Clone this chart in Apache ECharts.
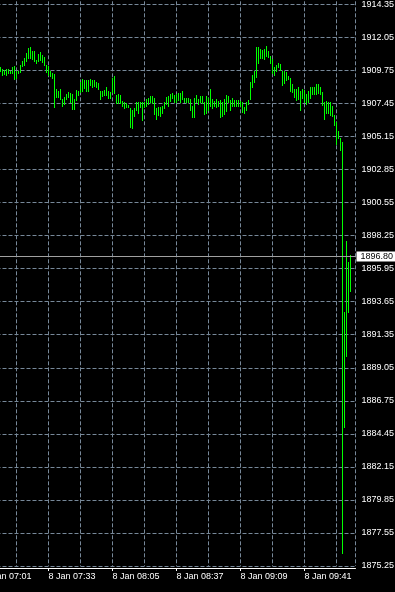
<!DOCTYPE html>
<html><head><meta charset="utf-8">
<script src="https://cdn.jsdelivr.net/npm/echarts@6/dist/echarts.min.js"></script>
<style>html,body{margin:0;padding:0;background:#000;overflow:hidden}#c{width:395px;height:592px;}</style>
</head><body><div id="c"></div>
<script>
// Time axis origin (minute 0 of the x axis) and first bar offset (minutes)
const axisStartTime = '07:01';
const dateLabel = '8 Jan';
const firstBarMinute = 8; // first visible bar = 07:09, one bar per minute

// Bar highs (one per minute)
const highs = [
1910.02,1909.83,1909.79,1909.88,1909.83,1909.74,1910.02,1910.07,1909.69,1909.74,
1910.16,1910.39,1910.58,1910.95,1911.32,1911.36,1911.08,1911.13,1910.49,1910.86,
1911.00,1910.81,1910.67,1910.16,1910.07,1909.69,1909.60,1909.51,1908.44,1908.30,
1908.49,1907.75,1907.89,1908.12,1908.26,1908.17,1908.08,1907.75,1908.40,1908.35,
1908.91,1909.14,1909.10,1909.05,1909.10,1909.14,1909.05,1909.10,1908.91,1908.86,
1908.35,1908.30,1908.40,1908.63,1908.35,1908.26,1909.24,1909.33,1908.03,1908.08,
1908.03,1907.61,1907.52,1907.47,1907.33,1907.15,1907.01,1907.15,1907.57,1907.57,
1907.52,1907.57,1907.57,1907.75,1907.85,1907.98,1907.98,1907.85,1907.15,1907.19,
1907.19,1907.29,1907.57,1907.89,1907.98,1908.12,1908.17,1908.03,1908.12,1908.21,
1908.21,1908.35,1907.85,1907.80,1907.80,1907.75,1907.24,1907.85,1908.03,1907.75,
1907.98,1907.94,1907.52,1907.94,1907.85,1908.44,1907.75,1907.61,1907.75,1907.61,
1907.66,1907.57,1907.75,1908.03,1907.98,1907.70,1907.85,1907.66,1907.66,1907.66,
1907.61,1907.52,1907.19,1907.52,1907.66,1908.91,1909.42,1909.69,1911.36,1911.41,
1911.27,1911.20,1911.27,1911.46,1911.13,1910.77,1910.53,1910.02,1910.16,1910.30,
1910.21,1909.69,1909.69,1909.65,1909.33,1909.19,1908.77,1908.44,1908.44,1908.63,
1908.35,1908.44,1908.40,1908.12,1908.35,1908.58,1908.63,1908.63,1908.82,1908.77,
1908.63,1908.26,1907.57,1907.61,1907.52,1907.57,1907.29,1906.64,1906.13,1905.52,
1905.06,1904.74,1892.95,1897.86,1896.42,1896.89
];

// Bar lows (one per minute)
const lows = [
1909.69,1909.42,1909.51,1909.42,1909.55,1909.55,1909.55,1909.14,1909.19,1909.55,
1909.65,1910.07,1910.11,1910.39,1910.63,1910.63,1910.53,1910.44,1910.30,1910.39,
1910.49,1910.35,1910.11,1909.65,1909.46,1909.33,1909.24,1907.19,1907.89,1907.89,
1907.75,1907.29,1907.43,1907.75,1907.89,1907.57,1907.05,1907.05,1907.71,1908.03,
1908.26,1908.35,1908.54,1908.31,1908.35,1908.72,1908.63,1908.68,1908.58,1908.44,
1907.75,1907.94,1908.03,1908.03,1907.80,1907.85,1908.22,1908.17,1907.47,1907.47,
1907.47,1907.24,1907.15,1907.19,1907.19,1905.80,1905.76,1906.55,1907.01,1906.78,
1907.19,1906.32,1907.19,1907.29,1907.43,1907.57,1907.47,1906.73,1906.40,1906.63,
1906.59,1906.78,1907.15,1907.38,1907.29,1907.61,1907.80,1907.57,1907.56,1907.66,
1907.57,1907.75,1907.52,1907.52,1907.52,1907.01,1906.49,1906.49,1907.52,1907.43,
1907.57,1907.47,1906.73,1906.77,1906.96,1907.29,1907.15,1907.24,1907.19,1907.29,
1906.54,1906.59,1906.73,1906.91,1907.52,1907.01,1907.29,1907.29,1907.24,1907.29,
1907.29,1906.87,1906.82,1906.96,1907.38,1907.75,1908.58,1908.91,1909.28,1910.25,
1910.63,1910.58,1910.53,1910.72,1910.67,1910.25,1909.60,1909.42,1909.69,1909.97,
1909.79,1908.72,1908.86,1909.05,1909.14,1908.31,1908.26,1907.89,1907.71,1907.75,
1906.96,1907.85,1907.52,1907.38,1907.52,1907.85,1908.08,1908.08,1908.12,1908.21,
1908.12,1907.33,1906.36,1906.77,1906.77,1906.68,1906.59,1905.94,1904.65,1905.06,
1904.18,1876.16,1884.95,1889.89,1892.95,1894.41
];

// Price axis ticks
const priceMin = 1875.25;
const priceStep = 2.3;
const priceMax = 1916.65;
// Current bid price
const bidPrice = 1896.80;

const FONT = '"Liberation Sans", Arial, sans-serif';
const FS = 9;

const [h0, m0] = axisStartTime.split(':').map(Number);
function timeLabel(m) {
  const t = h0 * 60 + m0 + Math.round(m);
  const hh = String(Math.floor(t / 60)).padStart(2, '0');
  const mm = String(t % 60).padStart(2, '0');
  return dateLabel + ' ' + hh + ':' + mm;
}

const barData = highs.map((h, i) => [firstBarMinute + i, h, lows[i]]);

const chart = echarts.init(document.getElementById('c'), null, {renderer: 'canvas'});
const gridColor = '#778899';
const dash = [4, 2];
chart.setOption({
  backgroundColor: '#000',
  animation: false,
  grid: {left: -15.5, right: 39.5, top: -28.7, bottom: 26, containLabel: false, outerBoundsMode: 'none'},
  xAxis: [{
    type: 'value', min: 0, max: 185.5, interval: 16,
    axisLine: {show: false}, axisTick: {show: false}, axisLabel: {show: false},
    splitLine: {show: true, lineStyle: {color: gridColor, width: 1, type: dash}}
  }, {
    type: 'value', min: 0, max: 185.5, interval: 32, position: 'bottom', offset: 2,
    axisLine: {show: true, lineStyle: {color: '#fff', width: 1}},
    axisTick: {show: true, length: 3, lineStyle: {color: '#fff'}},
    axisLabel: {show: true, color: '#fff', fontSize: FS, fontFamily: FONT, align: 'left',
      margin: 4, showMaxLabel: false, showMinLabel: true, hideOverlap: false, formatter: timeLabel},
    splitLine: {show: false}
  }],
  yAxis: {
    type: 'value', position: 'right', min: priceMin, max: priceMax, interval: priceStep,
    axisLine: {show: true, lineStyle: {color: '#fff', width: 1}},
    axisTick: {show: true, length: 3, lineStyle: {color: '#fff'}},
    axisLabel: {color: '#fff', fontSize: FS, fontFamily: FONT, margin: 6,
      showMaxLabel: false, formatter: v => v.toFixed(2)},
    splitLine: {show: true, lineStyle: {color: gridColor, width: 1, type: dash}}
  },
  series: [{
    type: 'custom',
    xAxisIndex: 0,
    clip: true,
    data: barData,
    encode: {x: 0, y: [1, 2]},
    renderItem: function (params, api) {
      const x = api.value(0);
      const p1 = api.coord([x, api.value(1)]);
      const p2 = api.coord([x, api.value(2)]);
      const left = Math.floor(p1[0]);
      const top = Math.round(p1[1]);
      const bot = Math.round(p2[1]) + 1;
      return {
        type: 'rect',
        shape: {x: left, y: top, width: 1, height: Math.max(1, bot - top)},
        style: {fill: '#00ff00', stroke: null, lineWidth: 0}
      };
    },
    markLine: {
      silent: true, symbol: 'none', animation: false,
      data: [{yAxis: bidPrice}],
      lineStyle: {color: '#a0a0a0', type: 'solid', width: 1},
      label: {show: true, position: 'end', distance: 1, formatter: bidPrice.toFixed(2),
        backgroundColor: '#fff', color: '#000', padding: [1, 4, 0, 4], fontSize: FS, fontFamily: FONT}
    }
  }]
});
</script>
</body></html>
